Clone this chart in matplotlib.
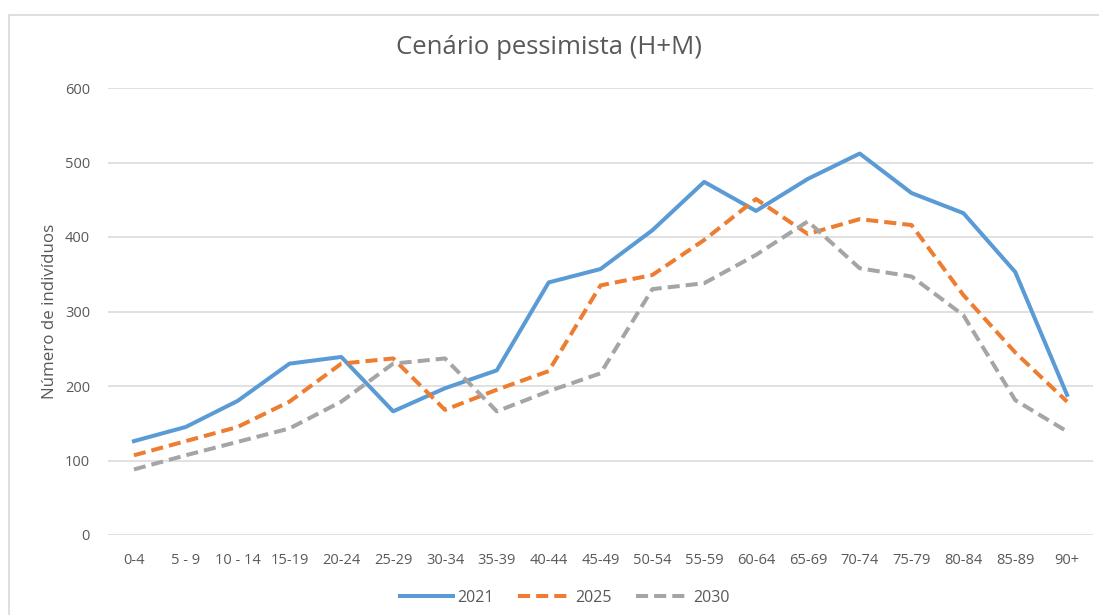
import numpy as np
import matplotlib
matplotlib.use('Agg')
import matplotlib.pyplot as plt
from matplotlib.patches import Rectangle

plt.rcParams['font.family'] = ['Open Sans', 'DejaVu Sans']

ages = ['0-4', '5 - 9', '10 - 14', '15-19', '20-24', '25-29', '30-34', '35-39', '40-44',
        '45-49', '50-54', '55-59', '60-64', '65-69', '70-74', '75-79', '80-84', '85-89', '90+']
v2021 = [126, 145, 180, 230, 239, 166, 197, 221, 339, 357, 409, 474, 435, 478, 512, 459, 432, 353, 188]
v2025 = [107, 126, 145, 179, 230, 237, 168, 195, 220, 335, 349, 396, 451, 404, 424, 416, 322, 245, 179]
v2030 = [88, 107, 125, 143, 179, 230, 237, 166, 193, 217, 330, 338, 376, 421, 358, 347, 295, 181, 139]
years = ['2021', '2025', '2030']
yticks = [0, 100, 200, 300, 400, 500, 600]

txt = '#595959'
fig = plt.figure(figsize=(10.99, 6.15), dpi=100)
fig.patches.append(Rectangle((9 / 1099, -0.1), 1.2, 1 - 15 / 615 + 0.1, transform=fig.transFigure,
                             fill=False, edgecolor='#D9D9D9', lw=1.2))
ax = fig.add_axes([108 / 1099, 1 - 535 / 615, (1093 - 108) / 1099, (535 - 88) / 615])

x = np.arange(len(ages))
ax.plot(x, v2021, color='#5B9BD5', lw=2.9, label=years[0], solid_joinstyle='round')
ax.plot(x, v2025, color='#ED7D31', lw=2.9, label=years[1], dashes=(3.0, 1.5))
ax.plot(x, v2030, color='#A5A5A5', lw=2.9, label=years[2], dashes=(3.0, 1.5))

ax.set_xlim(-0.5, len(ages) - 0.5)
ax.set_ylim(0, 600)
ax.set_yticks(yticks)
ax.set_xticks(x)
ax.set_xticklabels(ages)
ax.grid(axis='y', color='#D9D9D9', lw=1.1)
ax.set_axisbelow(True)
for s in ax.spines.values():
    s.set_visible(False)
ax.tick_params(length=0, labelsize=10.5, labelcolor=txt)
ax.tick_params(axis='y', pad=13)
ax.tick_params(axis='x', pad=13)
ax.set_ylabel('Número de indivíduos', fontsize=12.2, color=txt, labelpad=5)

fig.text(549 / 1099, 1 - 47 / 615, 'Cenário pessimista (H+M)', ha='center', va='center',
         fontsize=18.5, color=txt)

ax.legend(loc='center', bbox_to_anchor=(565 / 1099, 1 - 598 / 615), bbox_transform=fig.transFigure,
          ncol=3, frameon=False, fontsize=11.5, handlelength=3.3, handletextpad=0.3,
          columnspacing=1.5, labelcolor=txt)

fig.savefig('out.png', dpi=100)
